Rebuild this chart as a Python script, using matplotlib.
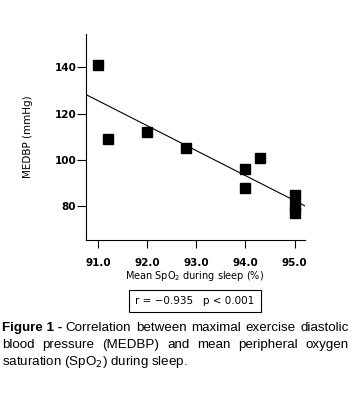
import numpy as np
import matplotlib
matplotlib.use('Agg')
import matplotlib.pyplot as plt

# values
spo2 = [91.0, 91.2, 92.0, 92.8, 94.0, 94.0, 94.3, 95.0, 95.0, 95.0]
medbp = [141, 109, 112, 105, 96, 88, 101, 85, 80, 77.3]
xticks = [91.0, 92.0, 93.0, 94.0, 95.0]
yticks = [80, 100, 120, 140]
stats_text = 'r = \u22120.935   p < 0.001'
caption_bold = 'Figure 1 - '
caption_lines = [
    'Correlation between maximal exercise diastolic',
    'blood pressure (MEDBP) and mean peripheral oxygen',
    'saturation (SpO$_2$) during sleep.',
]

fig = plt.figure(figsize=(3.64, 4.0), dpi=100)
ax = fig.add_axes([0.2363, 0.40, 0.6016, 0.515])

ax.plot(spo2, medbp, 's', color='black', ms=7.2, mec='black')

# least squares line across the axis
slope, icpt = np.polyfit(spo2, medbp, 1)
xl = np.array([90.76, 95.21])
ax.plot(xl, slope * xl + icpt, color='black', lw=0.8)

ax.set_xlim(90.76, 95.21)
ax.set_ylim(65.5, 154.4)
ax.set_xticks(xticks)
ax.set_xticklabels([f'{v:.1f}' for v in xticks])
ax.set_yticks(yticks)
for s in ['top', 'right']:
    ax.spines[s].set_visible(False)
for s in ['left', 'bottom']:
    ax.spines[s].set_linewidth(0.8)
ax.tick_params(axis='x', length=6, width=0.8, pad=7, labelsize=7.5)
ax.tick_params(axis='y', length=6.5, width=0.8, pad=0.5, labelsize=7.5)
for lab in ax.get_xticklabels() + ax.get_yticklabels():
    lab.set_fontweight('bold')

ax.set_ylabel('MEDBP (mmHg)', fontsize=7.5)
ax.yaxis.set_label_coords(-0.24, 0.5)
fig.text(195 / 364, 1 - 276 / 400, 'Mean SpO$_2$ during sleep (%)', fontsize=7,
         ha='center', va='center')

fig.text(195 / 364, 1 - 301 / 400, stats_text, fontsize=7.5, ha='center', va='center',
         bbox=dict(boxstyle='square,pad=0.6', fc='white', ec='black', lw=0.8))

# caption, justified by hand for the first two lines
fig.canvas.draw()
r = fig.canvas.get_renderer()
left_px, right_px = 2, 349
line_y = [328, 345, 362]
fs = 9.6
cap_font = 'Liberation Sans'
for i, line in enumerate(caption_lines):
    y = 1 - line_y[i] / 400
    x0 = left_px
    if i == 0:
        t = fig.text(x0 / 364, y, caption_bold, fontsize=fs, fontweight='bold',
                     family=cap_font, va='center', ha='left')
        x0 += t.get_window_extent(r).width
    words = line.split(' ')
    if i == 2:
        fig.text(x0 / 364, y, line, fontsize=fs, family=cap_font, va='center', ha='left')
        continue
    texts = [fig.text(0, y, w, fontsize=fs, family=cap_font, va='center', ha='left')
             for w in words]
    widths = [t.get_window_extent(r).width for t in texts]
    gap = (right_px - x0 - sum(widths)) / (len(words) - 1)
    x = x0
    for t, w in zip(texts, widths):
        t.set_x(x / 364)
        x += w + gap

fig.savefig('out.png', dpi=100)
